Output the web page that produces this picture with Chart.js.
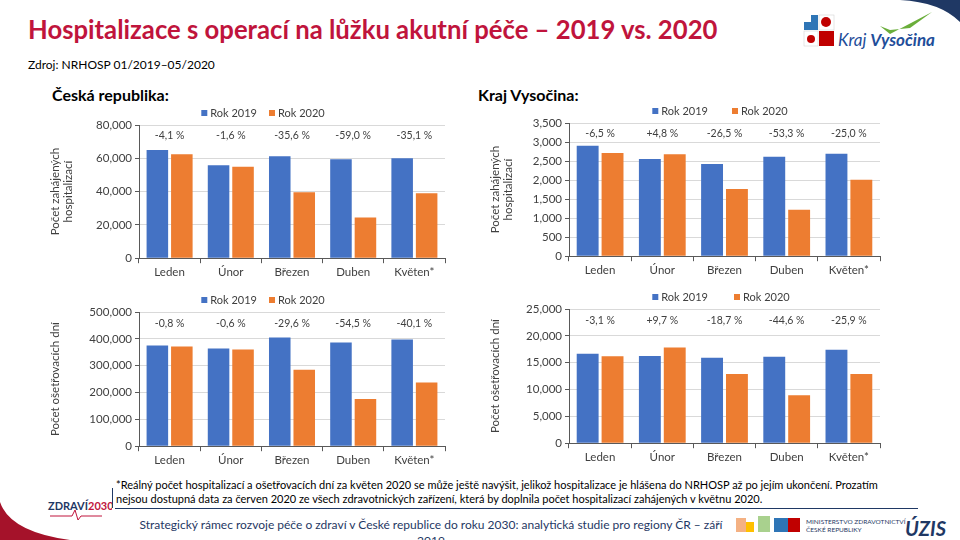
<!DOCTYPE html>
<html lang="cs">
<head>
<meta charset="UTF-8">
<title>Hospitalizace s operací na lůžku akutní péče</title>
<script src="https://cdn.jsdelivr.net/npm/chart.js"></script>
<style>
  html, body { margin: 0; padding: 0; }
  body { width: 960px; height: 540px; position: relative; overflow: hidden; background: #fff; font-family: Lato, "Open Sans", sans-serif; }
  .abs { position: absolute; }
  h1 { position: absolute; left: 28px; top: 14px; margin: 0; font-size: 25.7px; font-weight: 700; color: #C0143C; white-space: nowrap; }
  .src { left: 28px; top: 57px; font-size: 12px; color: #000; }
  .region { top: 85px; font-size: 16px; font-weight: 700; color: #000; }
  .box { position: absolute; }
  .note { left: 116px; top: 478px; font-size: 11px; line-height: 13.5px; color: #000; white-space: nowrap; }
  .foot { left: 131px; top: 517px; width: 600px; text-align: center; font-size: 12px; line-height: 16px; color: #1F3864; }
</style>
</head>
<body>
<!-- header -->
<h1>Hospitalizace s operací na lůžku akutní péče – 2019 vs. 2020</h1>
<div class="abs src">Zdroj: NRHOSP 01/2019–05/2020</div>
<div class="abs region" style="left:52px">Česká republika:</div>
<div class="abs region" style="left:478px">Kraj Vysočina:</div>

<!-- logo top right -->
<svg class="abs" style="left:790px;top:0" width="170" height="60">
  <path d="M110 0 Q150 2 170 22 L170 0 Z" fill="#1F3864"/>
  <rect x="14" y="15" width="14" height="15" fill="#2E75B6"/>
  <rect x="14" y="15" width="7" height="7" fill="#fff"/>
  <rect x="29" y="15" width="15" height="15" fill="#fff" stroke="#ccc" stroke-width="0.5"/>
  <circle cx="36" cy="22" r="5" fill="#C00000"/>
  <rect x="14" y="31" width="14" height="15" fill="#fff" stroke="#ccc" stroke-width="0.5"/>
  <circle cx="21" cy="39" r="4" fill="#C00000"/>
  <rect x="29" y="31" width="15" height="15" fill="#C00000"/>
  <path d="M90 26 L100 34 L142 12 L120 28 L100 30 Z" fill="#6AAE3A"/>
  <text x="48" y="46" font-family="Lato, sans-serif" font-size="17" font-style="italic" fill="#1F4E9A">Kraj <tspan font-weight="700">Vysočina</tspan></text>
</svg>

<!-- charts -->
<div class="box" style="left:40px;top:100px;width:440px;height:181px"><canvas id="crHosp"></canvas></div>
<div class="box" style="left:480px;top:98px;width:480px;height:181px"><canvas id="vyHosp"></canvas></div>
<div class="box" style="left:40px;top:287px;width:440px;height:182px"><canvas id="crDays"></canvas></div>
<div class="box" style="left:480px;top:284px;width:480px;height:182px"><canvas id="vyDays"></canvas></div>

<!-- footer -->
<div class="abs note">*Reálný počet hospitalizací a ošetřovacích dní za květen 2020 se může ještě navýšit, jelikož hospitalizace je hlášena do NRHOSP až po jejím ukončení. Prozatím<br>nejsou dostupná data za červen 2020 ze všech zdravotnických zařízení, která by doplnila počet hospitalizací zahájených v květnu 2020.</div>
<div class="abs" style="left:115px;top:508px;width:803px;height:1px;background:#1F3864"></div>
<div class="abs" style="left:112px;top:488px;width:1px;height:20px;background:#1F3864"></div>
<svg class="abs" style="left:0;top:480px" width="112" height="60">
  <path d="M0 22 Q10 52 70 60 L0 60 Z" fill="#A5122A"/>
  <text x="48" y="30" font-family="Lato, sans-serif" font-size="11" font-weight="700" fill="#1F3864">ZDRAVÍ<tspan fill="#C0143C">2030</tspan></text>
  <path d="M50 36 L72 36 L75 30 L78 40 L81 36 L102 36" stroke="#C0143C" fill="none" stroke-width="1"/>
</svg>
<div class="abs foot">Strategický rámec rozvoje péče o zdraví v České republice do roku 2030: analytická studie pro regiony ČR – září 2019</div>
<svg class="abs" style="left:730px;top:512px" width="230" height="28">
  <rect x="6" y="6" width="10" height="14" fill="#F4B183"/>
  <rect x="16" y="10" width="8" height="10" fill="#FFC000"/>
  <rect x="28" y="4" width="12" height="16" fill="#A9D18E"/>
  <rect x="44" y="6" width="14" height="14" fill="#2E75B6"/>
  <rect x="58" y="6" width="12" height="14" fill="#C00000"/>
  <text x="76" y="12" font-family="Lato, sans-serif" font-size="6.5" fill="#1F3864">MINISTERSTVO ZDRAVOTNICTVÍ</text>
  <text x="76" y="20" font-family="Lato, sans-serif" font-size="6.5" fill="#1F3864">ČESKÉ REPUBLIKY</text>
  <text x="175" y="24" font-family="Lato, sans-serif" font-size="20" font-style="italic" font-weight="700" fill="#1F3864">ÚZIS</text>
</svg>

<script>
// categories
const months = ['Leden', 'Únor', 'Březen', 'Duben', 'Květen*'];

// Česká republika - počet zahájených hospitalizací
const crHosp2019 = [65000, 55900, 61300, 59500, 60100];
const crHosp2020 = [62400, 54900, 39600, 24500, 39000];
const crHospChange = ['-4,1 %', '-1,6 %', '-35,6 %', '-59,0 %', '-35,1 %'];

// Kraj Vysočina - počet zahájených hospitalizací
const vyHosp2019 = [2900, 2555, 2425, 2610, 2690];
const vyHosp2020 = [2712, 2678, 1765, 1218, 2010];
const vyHospChange = ['-6,5 %', '+4,8 %', '-26,5 %', '-53,3 %', '-25,0 %'];

// Česká republika - počet ošetřovacích dní
const crDays2019 = [375000, 364000, 405000, 386000, 398000];
const crDays2020 = [371000, 360000, 285000, 176000, 237000];
const crDaysChange = ['-0,8 %', '-0,6 %', '-29,6 %', '-54,5 %', '-40,1 %'];

// Kraj Vysočina - počet ošetřovacích dní
const vyDays2019 = [16650, 16250, 15900, 16100, 17420];
const vyDays2020 = [16200, 17820, 12900, 8950, 12900];
const vyDaysChange = ['-3,1 %', '+9,7 %', '-18,7 %', '-44,6 %', '-25,9 %'];

const BLUE = '#4472C4';
const ORANGE = '#ED7D31';
const TEXT = '#404040';

// draws the percentage change above every category
const changeLabels = {
    id: 'changeLabels',
    afterDatasetsDraw(chart, args, opts) {
        const ctx = chart.ctx;
        const xs = chart.scales.x, ys = chart.scales.y;
        const y = ys.getPixelForValue(ys.max * 0.917);
        ctx.save();
        ctx.font = '10.5px Lato, sans-serif';
        ctx.fillStyle = TEXT;
        ctx.textAlign = 'center';
        ctx.textBaseline = 'middle';
        opts.labels.forEach((t, i) => ctx.fillText(t, xs.getPixelForValue(i), y));
        ctx.restore();
    }
};

// small legend centred at a given x (the built-in one centres on the padded area)
const topLegend = {
    id: 'topLegend',
    afterDraw(chart, args, opts) {
        const ctx = chart.ctx;
        ctx.save();
        ctx.font = '11px Lato, sans-serif';
        ctx.textBaseline = 'middle';
        const items = chart.data.datasets.map(ds => ({ text: ds.label, color: ds.backgroundColor, w: 9 + ctx.measureText(ds.label).width }));
        const total = items.reduce((s, it) => s + it.w, 0) + opts.gap * (items.length - 1);
        let x = opts.cx - total / 2;
        items.forEach(it => {
            ctx.fillStyle = it.color;
            ctx.fillRect(x, opts.y - 3, 6, 6);
            ctx.fillStyle = TEXT;
            ctx.fillText(it.text, x + 9, opts.y);
            x += it.w + opts.gap;
        });
        ctx.restore();
    }
};

function makeChart(id, d2019, d2020, changes, max, step, title, axisW, padRight, legCx, legGap) {
    new Chart(document.getElementById(id), {
        type: 'bar',
        data: {
            labels: months,
            datasets: [
                { label: 'Rok 2019', data: d2019, backgroundColor: BLUE },
                { label: 'Rok 2020', data: d2020, backgroundColor: ORANGE }
            ]
        },
        options: {
            responsive: true,
            maintainAspectRatio: false,
            animation: false,
            datasets: { bar: { categoryPercentage: 0.8, barPercentage: 0.88 } },
            layout: { padding: { left: 6, right: padRight, top: 25, bottom: 0 } },
            plugins: {
                legend: { display: false },
                tooltip: { enabled: false },
                changeLabels: { labels: changes },
                topLegend: { cx: legCx, y: 13, gap: legGap }
            },
            scales: {
                x: {
                    grid: { offset: true, drawOnChartArea: false, drawTicks: true, tickLength: 5, tickColor: '#595959' },
                    border: { color: '#595959' },
                    ticks: { color: TEXT, font: { size: 11.5, family: 'Lato' }, padding: 2 }
                },
                y: {
                    min: 0, max: max,
                    grid: { color: '#D9D9D9', tickLength: 4, tickColor: '#595959' },
                    border: { color: '#595959' },
                    ticks: {
                        stepSize: step, color: TEXT, font: { size: 11.5, family: 'Lato' }, padding: 3,
                        callback: v => v.toLocaleString('en-US')
                    },
                    title: { display: true, text: title, color: TEXT, font: { size: 11.5, family: 'Lato' }, padding: 2 },
                    afterFit: s => { s.width = axisW; }
                }
            }
        },
        plugins: [changeLabels, topLegend]
    });
}

makeChart('crHosp', crHosp2019, crHosp2020, crHospChange, 80000, 20000, ['Počet zahájených', 'hospitalizací'], 93, 35, 223, 12);
makeChart('vyHosp', vyHosp2019, vyHosp2020, vyHospChange, 3500, 500, ['Počet zahájených', 'hospitalizací'], 83, 80, 240, 24);
makeChart('crDays', crDays2019, crDays2020, crDaysChange, 500000, 100000, 'Počet ošetřovacích dní', 93, 35, 223, 12);
makeChart('vyDays', vyDays2019, vyDays2020, vyDaysChange, 25000, 5000, 'Počet ošetřovacích dní', 83, 80, 241, 26);
</script>
</body>
</html>
